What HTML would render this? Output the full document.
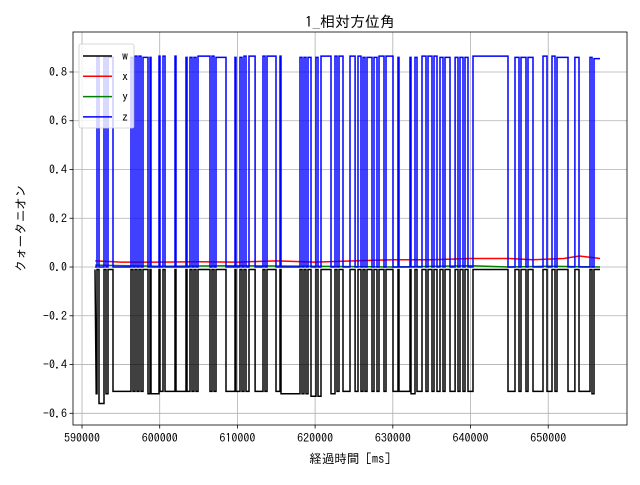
<!DOCTYPE html>
<html><head><meta charset="utf-8">
<style>
body{margin:0;background:#fff;}
svg text{font-family:"IPAGothic","Liberation Sans","Noto Sans CJK JP",sans-serif;}
</style></head>
<body>
<svg id="chart" width="640" height="480" xmlns="http://www.w3.org/2000/svg">
<rect width="640" height="480" fill="#fff"/>
<g id="grid"></g>
<g id="series"></g>
<g id="axes"></g>
</svg>
<script>
const xTicks=[590000,600000,610000,620000,630000,640000,650000];
const yTicks=[0.8,0.6,0.4,0.2,0.0,-0.2,-0.4,-0.6];
const yTickLabels=["0.8","0.6","0.4","0.2","0.0","−0.2","−0.4","−0.6"];
const seriesNames=["w","x","y","z"];
const startTime=591670;
const endTime=656670;
const highStart=[591930,592830,593350,596310,596820,597340,597850,598750,599910,600420,601970,603380,603900,604410,604930,606730,607250,609690,610330,610850,611490,613290,613810,615480,618060,618570,619090,620120,620760,622560,623080,624490,625520,626160,626680,627580,628220,629120,630670,632210,632860,633760,634530,635300,636070,636720,638010,638650,639290,640320,645720,646500,647400,649330,650490,651130,653440,655380,655890];
const highEnd=[592190,593090,593990,596560,597080,597590,598490,598880,600040,600680,602100,603510,604160,604670,606470,606990,608530,609820,610590,611110,612270,613550,614970,615610,618310,618830,619470,620370,622050,622820,623590,625140,625910,626420,627320,627970,628870,630030,630800,632340,633110,634270,635040,635690,636460,637360,638390,639030,639680,644830,646240,647140,648040,649850,650870,652550,653960,655640,656670];
const zHigh=[0.86,0.86,0.86,0.86,0.865,0.865,0.86,0.86,0.865,0.865,0.865,0.86,0.86,0.86,0.865,0.865,0.86,0.86,0.86,0.865,0.865,0.865,0.865,0.865,0.86,0.86,0.86,0.86,0.865,0.865,0.865,0.865,0.865,0.86,0.86,0.86,0.865,0.865,0.86,0.86,0.86,0.865,0.865,0.865,0.86,0.86,0.86,0.86,0.86,0.865,0.86,0.86,0.86,0.865,0.865,0.86,0.86,0.86,0.855];
const zLow=0.0;
const wHigh=-0.01;
const wLow=[-0.52,-0.56,-0.52,-0.51,-0.51,-0.51,-0.51,-0.52,-0.52,-0.51,-0.51,-0.51,-0.51,-0.51,-0.51,-0.51,-0.51,-0.51,-0.51,-0.51,-0.51,-0.51,-0.51,-0.51,-0.52,-0.52,-0.52,-0.53,-0.53,-0.52,-0.51,-0.51,-0.51,-0.51,-0.51,-0.51,-0.51,-0.51,-0.51,-0.51,-0.52,-0.51,-0.51,-0.51,-0.51,-0.51,-0.51,-0.51,-0.51,-0.51,-0.51,-0.51,-0.51,-0.51,-0.51,-0.51,-0.51,-0.51,-0.52,-0.52];
const xTimes=[591700,595000,600000,605000,610000,615000,620000,625000,630000,635000,640000,645000,648000,652000,654000,656670];
const xVals=[0.025,0.02,0.02,0.022,0.02,0.025,0.02,0.025,0.03,0.03,0.035,0.035,0.03,0.035,0.045,0.035];
const yTimes=[591700,600000,610000,620000,630000,640000,645000,650000,656670];
const yVals=[0.008,0.003,0.005,0.003,0.0,0.005,0.0,0.003,0.0];

const L=73,R=627,T=32,B=425;
const xMin=588840,xMax=660140,yMin=-0.648,yMax=0.964;
const sx=v=>L+(v-xMin)/(xMax-xMin)*(R-L);
const sy=v=>B-(v-yMin)/(yMax-yMin)*(B-T);
const NS="http://www.w3.org/2000/svg";
function mk(tag,attrs,parent){const e=document.createElementNS(NS,tag);for(const k in attrs)e.setAttribute(k,attrs[k]);parent.appendChild(e);return e;}
const grid=document.getElementById('grid'),axes=document.getElementById('axes'),ser=document.getElementById('series');

xTicks.forEach((t,i)=>{
 const x=sx(t);
 const g=mk('line',{x1:x,x2:x,y1:T,y2:B,stroke:'#b0b0b0','stroke-width':0.8},grid);
 
 
 const tk=mk('line',{x1:x,x2:x,y1:B,y2:B+3.5,stroke:'#000','stroke-width':0.8},axes);
 
 
 const tx=mk('text',{x:x,y:B+17,'text-anchor':'middle','font-size':12,fill:'#000'},axes);
 tx.textContent=String(t);
 
 
});
yTicks.forEach((v,i)=>{
 const y=sy(v);
 const g=mk('line',{x1:L,x2:R,y1:y,y2:y,stroke:'#b0b0b0','stroke-width':0.8},grid);
 
 
 const tk=mk('line',{x1:L-3.5,x2:L,y1:y,y2:y,stroke:'#000','stroke-width':0.8},axes);
 
 
 const tx=mk('text',{x:L-6,y:y+4,'text-anchor':'end','font-size':12,fill:'#000'},axes);
 tx.textContent=yTickLabels[i];
 
 
});

// build step series
let zPts=[[startTime,zLow]],wPts=[[startTime,wHigh],[startTime+150,wLow[0]]];
for(let i=0;i<highStart.length;i++){
 zPts.push([highStart[i],zLow],[highStart[i],zHigh[i]],[highEnd[i],zHigh[i]]);
 wPts.push([highStart[i],wLow[i]],[highStart[i],wHigh],[highEnd[i],wHigh]);
 if(highEnd[i]<endTime){zPts.push([highEnd[i],zLow]);wPts.push([highEnd[i],wLow[i+1]]);}
}
const toPath=pts=>pts.map((p,i)=>(i?'L':'M')+sx(p[0]).toFixed(1)+' '+sy(p[1]).toFixed(1)).join('');
const wp=mk('path',{d:toPath(wPts),fill:'none',stroke:'#000','stroke-width':1.5},ser);


const xp=mk('path',{d:toPath(xTimes.map((t,i)=>[t,xVals[i]])),fill:'none',stroke:'#ff0000','stroke-width':1.5},ser);


const yp=mk('path',{d:toPath(yTimes.map((t,i)=>[t,yVals[i]])),fill:'none',stroke:'#008000','stroke-width':1.5},ser);


const zp=mk('path',{d:toPath(zPts),fill:'none',stroke:'#0000ff','stroke-width':1.5},ser);



const frame=mk('rect',{x:L,y:T,width:R-L,height:B-T,fill:'none',stroke:'#000','stroke-width':0.8},axes);



const title=mk('text',{x:(L+R)/2,y:27,'text-anchor':'middle','font-size':15,fill:'#000'},axes);
title.textContent='1_相対方位角';


const xl=mk('text',{x:(L+R)/2,y:463,'text-anchor':'middle','font-size':12.5,fill:'#000'},axes);
xl.textContent='経過時間 [ms]';


const yl=mk('text',{x:0,y:0,'text-anchor':'middle','font-size':12.5,fill:'#000',transform:'translate(25,'+((T+B)/2)+') rotate(-90)'},axes);
yl.textContent='クォータニオン';



// legend
const lg=mk('g',{},axes);


const lb=mk('rect',{x:79,y:44,width:55,height:84,rx:2,fill:'#fff','fill-opacity':0.8,stroke:'#ccc','stroke-width':0.8},lg);


const colors=['#000','#ff0000','#008000','#0000ff'];
seriesNames.forEach((n,i)=>{
 const y=56+i*20.3;
 const ln=mk('line',{x1:83,x2:112,y1:y,y2:y,stroke:colors[i],'stroke-width':1.5},lg);
 
 
 const t=mk('text',{x:122,y:y+4,'font-size':12,fill:'#000'},lg);
 t.textContent=n;
 
 
});
</script>
</body></html>
